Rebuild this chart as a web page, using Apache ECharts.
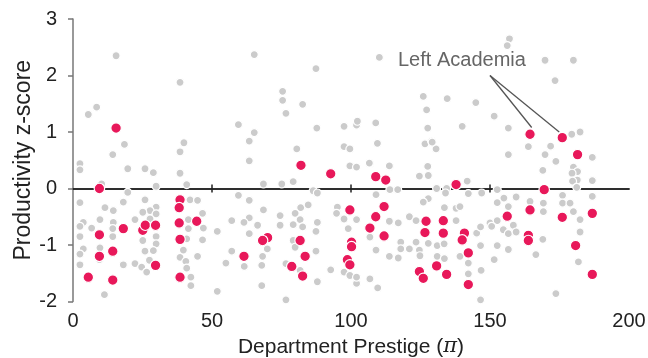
<!DOCTYPE html>
<html>
<head>
<meta charset="utf-8">
<script src="https://cdn.jsdelivr.net/npm/echarts@6/dist/echarts.min.js"></script>
<style>
  html, body { margin: 0; padding: 0; background: #fff; }
  #main { width: 648px; height: 358px; }
</style>
</head>
<body>
<div id="main"></div>
<script>
// 留在学术界的院系 (prestige, z-score)
const stayed = [
  [15.5,2.35],[38.5,1.88],[5.5,1.31],[8.5,1.44],
  [18.5,0.78],[14.3,0.6],[39.9,0.81],[38.5,0.65],[2.5,0.44],[2.5,0.33],[19.7,0.35],[25.9,0.35],[28.9,0.28],[38.5,0.27],[40.9,0.07],[29.9,0.04],[10.3,0.08],[19.7,-0.07],
  [2.5,-0.25],[11.5,-0.34],[18.1,-0.24],[14.5,-0.39],[25.9,-0.2],[29.9,-0.33],[27.7,-0.39],[25.1,-0.42],[29.9,-0.45],[22.3,-0.55],[27.7,-0.54],[42.1,-0.2],[44.8,-0.21],[46.6,-0.44],[41.5,-0.55],
  [3.7,-0.6],[2.5,-0.67],[6.7,-0.7],[9.7,-0.55],[14.5,-0.6],[14.3,-0.71],[14.3,-0.85],[2.5,-0.85],[41.5,-0.71],[46.9,-0.7],[46.6,-0.91],[40.9,-0.89],[25.1,-0.92],[29.9,-0.85],[29.9,-0.98],[25.9,-1.11],[28.9,-1.1],[3.7,-1.07],[2.5,-1.16],[9.7,-1.05],[9.5,-1.26],
  [2.5,-1.35],[18.1,-1.35],[22.3,-1.33],[24.7,-1.39],[26.5,-1.48],[27.5,-1.27],[38.5,-1.22],[39.7,-1.09],[40.6,-1.29],[40.9,-1.41],[44.8,-1.2],[42.4,-1.57],[42.4,-1.72],[11.3,-1.88],
  [65.2,2.37],[87.4,2.12],[110.2,2.32],[75.4,1.72],[75.4,1.56],[82.6,1.49],[76.6,1.33],[59.5,1.13],[65.2,0.99],[63.4,0.84],[63.4,0.49],[87.7,1.07],[97.5,1.1],[102,1.12],[102.3,1.19],[108.9,1.16],[109.5,0.8],[97.5,0.74],[99.6,0.7],[80.5,0.7],[99.6,0.4],[102,0.38],[106.8,0.44],[114,0.39],
  [126,1.63],[127.2,1.39],[127.6,1.07],[126.6,0.79],[127.6,0.39],[124.6,0.22],
  [68.5,0.08],[75.1,0.08],[79.2,0.12],[86.4,-0.04],[87.9,-0.08],[59.5,-0.12],[63.4,-0.21],[68.5,-0.38],[81.9,-0.34],[84.6,-0.29],[79.9,-0.44],[74.5,-0.48],[81.7,-0.55],[63.4,-0.52],[61.5,-0.6],[57.1,-0.57],[51.9,-0.76],[63.4,-0.8],[66.4,-0.65],[74.5,-0.65],[79.2,-0.64],[82.6,-0.68],[87.9,-0.6],[87.4,-0.76],
  [79.2,-0.92],[79.9,-1.04],[69.9,-1.07],[68.2,-1.2],[57.1,-1.11],[55,-1.32],[61.6,-1.38],[67.9,-1.36],[76.6,-1.33],[81.7,-1.45],[87.4,-1.11],[92.7,-1.44],[87.9,-1.65],[67.9,-1.72],[51.9,-1.82],[76.6,-1.97],[95.1,-0.33],[94.8,-0.44],[97.5,-0.54],[99,-0.71],[97.5,-1.48],[99.6,-1.54],
  [129,0.84],[130.6,0.7],[106.6,0.45],[113.8,0.4],[127.8,0.23],
  [114,-0.02],[116.8,-0.02],[109,-0.11],[130.8,0],[134.4,0],[141.8,0.13],[142.2,-0.09],[147,-0.08],[134,-0.08],[127.8,-0.18],[126,-0.24],[133.6,-0.34],[137.8,-0.35],[139.2,-0.32],[137.8,-0.57],[121,-0.5],[123.4,-0.57],[117,-0.61],[113.8,-0.58],[102,-0.55],
  [106.8,-0.86],[117.9,-0.95],[117.9,-1.07],[121,-1.07],[123.4,-0.95],[124.6,-1.09],[124.8,-1.19],[127.8,-0.97],[131,-1.01],[133.5,-0.98],[131,-1.2],[133.6,-1.24],[109,-1.09],[113.8,-1.2],[117,-1.23],[139.2,-1.2],[142.2,-1.32],[142.2,-1.51],[145.2,-0.79],[146.6,-0.68],[146.6,-1.01],
  [106.8,-1.6],[109.6,-1.76],[102,-1.68],[146.6,-1.97],[150,-0.61],[146.8,-1.45],[102,-1.57],
  [157,2.65],[156.2,2.53],[169.8,2.27],[180,2.27],[173.4,1.91],[134.6,1.59],[144.9,1.52],[151.5,1.28],[140,1.1],[156.6,1.07],[129.2,0.82],
  [156.6,0.6],[163.8,0.74],[171.8,0.75],[169.8,0.6],[173.7,0.48],[169,0.32],[179.4,0.96],[182.4,1.0],[186.8,0.55],[180,0.38],[181.5,0.3],[179.5,0.27],[181.4,0.15],[179.7,0.13],[181.2,0.02],[186.8,0.14],[186.8,-0.14],
  [152.6,-0.02],[152.6,-0.25],[155,-0.17],[159.4,-0.15],[156.6,-0.32],[164.4,-0.23],[169.2,-0.26],[169.2,-0.41],[176.1,-0.12],[176.1,-0.26],[178.8,-0.26],[180,-0.41],[182.4,-0.55],[182.4,-0.77],
  [152.6,-0.57],[150.6,-0.67],[154.8,-0.73],[156.6,-0.8],[158.4,-0.65],[159.4,-0.77],[152.6,-1.01],[156.6,-1.08],[169,-0.9],[151.5,-1.26],[166.5,-1.17],[181.8,-1.3],[173.7,-1.86]
];

// 离开学术界
const left = [
  [15.5,1.07],[9.5,0.0],[38.5,-0.2],[38.2,-0.34],[38.2,-0.61],[44.5,-0.58],[9.5,-0.82],[18.1,-0.71],[25.1,-0.74],[26,-0.65],[29.7,-0.65],[38.5,-0.9],[9.5,-1.2],[14.3,-1.11],[29.7,-1.36],[5.5,-1.57],[14.3,-1.62],[38.5,-1.57],
  [82,0.41],[92.7,0.26],[99.6,-0.38],[70,-0.87],[68.2,-0.92],[81.7,-0.92],[61.5,-1.2],[83.5,-1.2],[78.7,-1.38],[82.6,-1.55],[100.2,-0.95],[100.2,-1.03],[98.7,-1.26],[99.6,-1.35],
  [108.9,0.21],[112.5,0.15],[111.9,-0.32],[108.9,-0.5],[106.8,-0.7],[111.9,-0.84],[124.6,-1.47],[126,-1.59],[127,-0.58],[126.6,-0.78],
  [137.8,0.07],[133.2,-0.57],[133.2,-0.79],[140.8,-0.79],[140,-0.91],[142.2,-1.14],[130.8,-1.37],[134.4,-1.52],[142.2,-1.7],
  [164.4,0.96],[176,0.9],[181.5,0.6],[169.5,-0.02],[164.4,-0.38],[156.2,-0.49],[176,-0.51],[186.8,-0.44],[163.8,-0.83],[163.8,-0.92],[180.8,-1.01],[186.8,-1.52]
];

// 注释线: 起点和两个目标点
const noteFrom = [150, 2.0];
const noteTo = [[165, 1.08], [174.9, 1.0]];

const font = "'Liberation Sans', Arial, sans-serif";

let myChart = echarts.init(document.getElementById("main"));
myChart.setOption({
  animation: false,
  textStyle: { fontFamily: font },
  grid: { left: 73, right: 19, top: 19, bottom: 56.5, containLabel: false, outerBoundsMode: "none" },
  xAxis: [
    {
      type: "value",
      position: "bottom",
      min: 0,
      max: 200,
      interval: 50,
      axisLine: { show: false, onZero: false },
      axisTick: { show: false },
      splitLine: { show: false },
      axisLabel: { fontSize: 20, color: "#222", margin: 10, fontFamily: font },
      name: "Department Prestige ({i|π})",
      nameLocation: "middle",
      nameGap: 32,
      nameTextStyle: {
        fontSize: 21,
        color: "#222",
        fontFamily: font,
        rich: { i: { fontSize: 21, fontStyle: "italic", fontFamily: "'DejaVu Serif', serif", color: "#222" } },
      },
    },
    // 零线上的刻度 (上半)
    {
      type: "value",
      position: "bottom",
      min: 0,
      max: 200,
      interval: 50,
      axisLine: { show: true, onZero: true, onZeroAxisIndex: 0, lineStyle: { color: "#222", width: 1.5 } },
      axisTick: { show: true, inside: true, length: 4, customValues: [50, 100, 150], lineStyle: { color: "#222", width: 1.5 } },
      axisLabel: { show: false },
      splitLine: { show: false },
    },
    // 零线上的刻度 (下半)
    {
      type: "value",
      position: "bottom",
      min: 0,
      max: 200,
      interval: 50,
      axisLine: { show: true, onZero: true, onZeroAxisIndex: 0, lineStyle: { color: "#222", width: 1.5 } },
      axisTick: { show: true, inside: false, length: 4, customValues: [50, 100, 150], lineStyle: { color: "#222", width: 1.5 } },
      axisLabel: { show: false },
      splitLine: { show: false },
    },
  ],
  yAxis: {
    type: "value",
    min: -2,
    max: 3,
    interval: 1,
    axisLine: { show: true, onZero: false, lineStyle: { color: "#777", width: 1.5 } },
    axisTick: { show: true, length: 5, lineStyle: { color: "#777", width: 1.5 } },
    splitLine: { show: false },
    axisLabel: { fontSize: 20, color: "#222", margin: 16, fontFamily: font },
    name: "Productivity z-score",
    nameLocation: "middle",
    nameRotate: 90,
    nameGap: 38,
    nameMoveOverlap: false,
    nameTextStyle: { fontSize: 23, color: "#222", fontFamily: font },
  },
  graphic: [
    {
      type: "text",
      left: 398,
      top: 50,
      style: { text: "Left Academia", fontSize: 20, fill: "#666", fontFamily: font },
    },
  ],
  series: [
    {
      name: "Stayed",
      type: "scatter",
      data: stayed,
      symbolSize: 8,
      itemStyle: { color: "#cbcbcb", borderColor: "#fff", borderWidth: 1.2, opacity: 1 },
      silent: true,
    },
    {
      name: "Left Academia",
      type: "scatter",
      data: left,
      symbolSize: 10.5,
      itemStyle: { color: "#e8185a", borderColor: "#fff", borderWidth: 1.2, opacity: 1 },
      silent: true,
      markLine: {
        silent: true,
        symbol: "none",
        label: { show: false },
        lineStyle: { color: "#555", width: 1.3, type: "solid" },
        data: noteTo.map((p) => [{ coord: noteFrom }, { coord: p }]),
      },
    },
  ],
});
</script>
</body>
</html>
